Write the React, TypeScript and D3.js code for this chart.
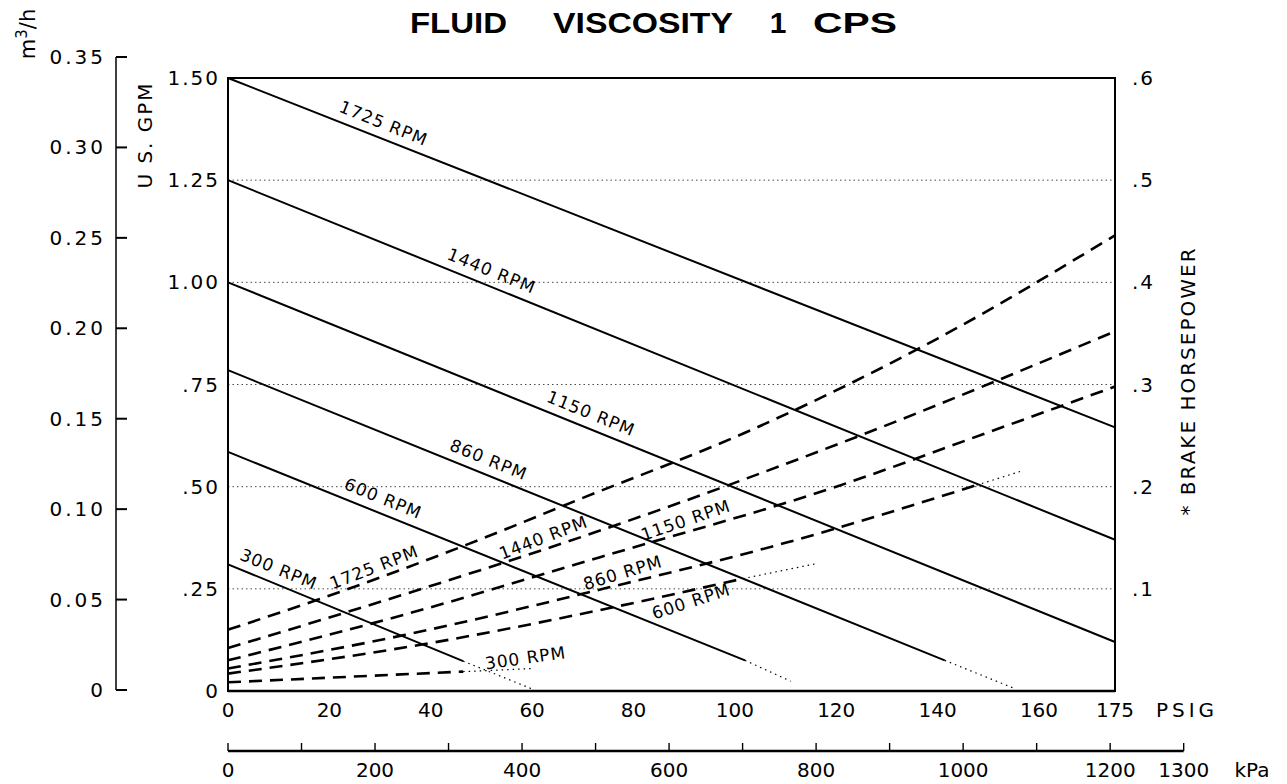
import * as d3 from 'd3';

const W = 1287;
const H = 784;

const rpmNames = ['1725', '1440', '1150', '860', '600', '300'];

// capacity lines: [psi, US GPM]
const flow1725 = [[0, 1.5], [175, 0.645]];
const flow1440 = [[0, 1.25], [175, 0.37]];
const flow1150 = [[0, 1.0], [175, 0.12]];
const flow860 = [[0, 0.785], [141.4, 0.075]];
const flow600 = [[0, 0.585], [102, 0.075]];
const flow300 = [[0, 0.31], [46.4, 0.073]];
const flowLines = [flow1725, flow1440, flow1150, flow860, flow600, flow300];
// dotted continuation past the end of the solid line
const flowTails = [null, null, null, [[141.4, 0.075], [155, 0.007]], [[102, 0.075], [111, 0.024]], [[46.4, 0.073], [60, 0.005]]];

// brake horsepower curves: [psi, BHP]
const bhp1725 = [[0, 0.06], [17.5, 0.089], [47, 0.143], [69, 0.187], [103, 0.255], [140, 0.345], [175, 0.446]];
const bhp1440 = [[0, 0.042], [35, 0.095], [73.4, 0.157], [124.7, 0.25], [175, 0.352]];
const bhp1150 = [[0, 0.03], [35, 0.075], [73.4, 0.131], [120, 0.2], [151, 0.255], [175, 0.298]];
const bhp860 = [[0, 0.022], [35, 0.055], [74, 0.1], [110, 0.145], [147.7, 0.2015]];
const bhp600 = [[0, 0.017], [40, 0.047], [77, 0.083], [101.6, 0.11]];
const bhp300 = [[0, 0.0085], [46.4, 0.019]];
const bhpCurves = [bhp1725, bhp1440, bhp1150, bhp860, bhp600, bhp300];
const bhpTails = [null, null, null, [[147.7, 0.2015], [156.4, 0.215]], [[101.6, 0.11], [116.4, 0.125]], [[46.4, 0.019], [60, 0.022]]];

// label placement along the curves (psi)
const flowLabelPsi = [29.6, 50.9, 70.5, 50.3, 29.5, 8.9];
const bhpLabelPsi = [29.6, 63, 91, 78.5, 90.7, 59];
const bhpLabelSide = [1, 1, 1, 1, -1, 1];
const bhpLabelAngle = [-21, -21, -19, -17, -18, -8];

const gpmTicks = [0, 0.25, 0.5, 0.75, 1.0, 1.25, 1.5];
const gpmTickLabels = ['0', '.25', '.50', '.75', '1.00', '1.25', '1.50'];
const m3Ticks = [0, 0.05, 0.1, 0.15, 0.2, 0.25, 0.3, 0.35];
const m3TickLabels = ['0', '0.05', '0.10', '0.15', '0.20', '0.25', '0.30', '0.35'];
const bhpTicks = [0.1, 0.2, 0.3, 0.4, 0.5, 0.6];
const bhpTickLabels = ['.1', '.2', '.3', '.4', '.5', '.6'];
const psiTicks = [0, 20, 40, 60, 80, 100, 120, 140, 160, 175];
const kpaTicks = d3.range(0, 1301, 100);
const kpaLabels = [0, 200, 400, 600, 800, 1000, 1200, 1300];

const xPsi = d3.scaleLinear().domain([0, 175]).range([228, 1115]);
const xKpa = d3.scaleLinear().domain([0, 175 * 6.894757]).range([228, 1115]);
const yGpm = d3.scaleLinear().domain([0, 1.5]).range([691, 78]);
const yBhp = d3.scaleLinear().domain([0, 0.6]).range([691, 78]);
const yM3 = d3.scaleLinear().domain([0, 0.35]).range([690, 57]);

const font = "'DejaVu Sans', sans-serif";

function valueAt(pts: number[][], p: number) {
  for (let i = 0; i < pts.length - 1; i++) {
    const [x0, y0] = pts[i];
    const [x1, y1] = pts[i + 1];
    if (p >= x0 && p <= x1) return y0 + ((p - x0) / (x1 - x0)) * (y1 - y0);
  }
  return pts[pts.length - 1][1];
}

export default function App() {
  const flowLine = d3.line<number[]>().x(d => xPsi(d[0])).y(d => yGpm(d[1]));
  const tailLine = d3.line<number[]>().x(d => xPsi(d[0])).y(d => yBhp(d[1]));
  const bhpLine = d3.line<number[]>().x(d => xPsi(d[0])).y(d => yBhp(d[1])).curve(d3.curveMonotoneX);

  const [x0, x1] = xPsi.range();
  const [yb, yt] = yGpm.range();

  return (
    <svg width={W} height={H} style={{ position: 'absolute', left: 0, top: 0, background: '#fff' }} fontFamily={font}>
      <rect width={W} height={H} fill="#fff" />

      {/* title */}
      <g fontFamily="'Liberation Sans', Arial, sans-serif" fontWeight="bold" fontSize={30} fill="#000">
        <text x={410} y={33} textLength={97} lengthAdjust="spacingAndGlyphs">FLUID</text>
        <text x={553} y={33} textLength={180} lengthAdjust="spacingAndGlyphs">VISCOSITY</text>
        <text x={778} y={33} textAnchor="middle">1</text>
        <text x={813} y={33} textLength={84} lengthAdjust="spacingAndGlyphs">CPS</text>
      </g>

      {/* gridlines */}
      {gpmTicks.slice(1, -1).map(t => (
        <line key={t} x1={x0} x2={x1} y1={yGpm(t)} y2={yGpm(t)} stroke="#000" strokeWidth={1} strokeDasharray="1.5,3" opacity={0.7} />
      ))}

      {/* capacity lines */}
      {flowLines.map((pts, i) => (
        <path key={'f' + i} d={flowLine(pts) || ''} fill="none" stroke="#000" strokeWidth={2} />
      ))}
      {flowTails.map((pts, i) => pts && (
        <path key={'ft' + i} d={flowLine(pts) || ''} fill="none" stroke="#000" strokeWidth={1.2} strokeDasharray="1.5,4" />
      ))}

      {/* horsepower curves */}
      {bhpCurves.map((pts, i) => (
        <path key={'b' + i} d={bhpLine(pts) || ''} fill="none" stroke="#000" strokeWidth={2.6} strokeDasharray="13,8" />
      ))}
      {bhpTails.map((pts, i) => pts && (
        <path key={'bt' + i} d={tailLine(pts) || ''} fill="none" stroke="#000" strokeWidth={1.2} strokeDasharray="1.5,4" />
      ))}

      {/* line labels */}
      {flowLines.map((pts, i) => {
        const p = flowLabelPsi[i];
        const all = flowTails[i] ? pts.concat(flowTails[i] as number[][]) : pts;
        const px = xPsi(p);
        const py = yGpm(valueAt(all, p));
        const a = 22;
        const r = (a * Math.PI) / 180;
        const cx = px + 15 * Math.sin(r);
        const cy = py - 15 * Math.cos(r);
        return (
          <text key={'fl' + i} x={cx} y={cy} dy="0.35em" textAnchor="middle" fontSize={17} letterSpacing={1}
            transform={`rotate(${a},${cx},${cy})`}>{rpmNames[i]} RPM</text>
        );
      })}
      {bhpCurves.map((pts, i) => {
        const p = bhpLabelPsi[i];
        const all = bhpTails[i] ? pts.concat(bhpTails[i] as number[][]) : pts;
        const px = xPsi(p);
        const py = yBhp(valueAt(all, p));
        const a = bhpLabelAngle[i];
        const r = (a * Math.PI) / 180;
        const off = 11 * bhpLabelSide[i];
        const cx = px + off * Math.sin(r);
        const cy = py - off * Math.cos(r);
        return (
          <text key={'bl' + i} x={cx} y={cy} dy="0.35em" textAnchor="middle" fontSize={17} letterSpacing={1}
            transform={`rotate(${a},${cx},${cy})`}>{rpmNames[i]} RPM</text>
        );
      })}

      {/* plot frame */}
      <rect x={x0} y={yt} width={x1 - x0} height={yb - yt} fill="none" stroke="#000" strokeWidth={2} />
      <line x1={x0} x2={x1} y1={yb} y2={yb} stroke="#000" strokeWidth={2.6} />

      {/* GPM axis labels */}
      {gpmTicks.map((t, i) => (
        <text key={'g' + t} x={220} y={yGpm(t)} dy="0.35em" textAnchor="end" fontSize={20} letterSpacing={2}>{gpmTickLabels[i]}</text>
      ))}
      <text transform={`translate(152,135) rotate(-90)`} textAnchor="middle" fontSize={20} letterSpacing={2}>U S. GPM</text>

      {/* m3/h axis */}
      <line x1={116} x2={116} y1={yM3(0.35)} y2={yM3(0)} stroke="#000" strokeWidth={1.5} />
      {m3Ticks.map((t, i) => (
        <g key={'m' + t}>
          <line x1={116} x2={127} y1={yM3(t)} y2={yM3(t)} stroke="#000" strokeWidth={2} />
          <text x={106} y={yM3(t)} dy="0.35em" textAnchor="end" fontSize={20} letterSpacing={3}>{m3TickLabels[i]}</text>
        </g>
      ))}
      <text transform={`translate(35,34) rotate(-90)`} textAnchor="middle" fontSize={21}>
        m<tspan dy={-8} fontSize={15}>3</tspan><tspan dy={8}>/h</tspan>
      </text>

      {/* BHP axis labels */}
      {bhpTicks.map((t, i) => (
        <text key={'h' + t} x={1132} y={yBhp(t)} dy="0.35em" textAnchor="start" fontSize={20} letterSpacing={2}>{bhpTickLabels[i]}</text>
      ))}
      <text transform={`translate(1195,381) rotate(-90)`} textAnchor="middle" fontSize={20} letterSpacing={2}>* BRAKE HORSEPOWER</text>

      {/* PSIG axis labels */}
      {psiTicks.map(t => (
        <text key={'p' + t} x={xPsi(t)} y={717} textAnchor="middle" fontSize={20}>{t}</text>
      ))}
      <text x={1187} y={717} textAnchor="middle" fontSize={20} letterSpacing={4}>PSIG</text>

      {/* kPa axis */}
      <line x1={xKpa(0)} x2={xKpa(1300)} y1={751} y2={751} stroke="#000" strokeWidth={2.4} />
      {kpaTicks.map(t => (
        <line key={'k' + t} x1={xKpa(t)} x2={xKpa(t)} y1={751} y2={743} stroke="#000" strokeWidth={1.4} />
      ))}
      {kpaLabels.map(t => (
        <text key={'kl' + t} x={xKpa(t)} y={777} textAnchor="middle" fontSize={20}>{t}</text>
      ))}
      <text x={1252} y={777} textAnchor="middle" fontSize={20}>kPa</text>
    </svg>
  );
}
